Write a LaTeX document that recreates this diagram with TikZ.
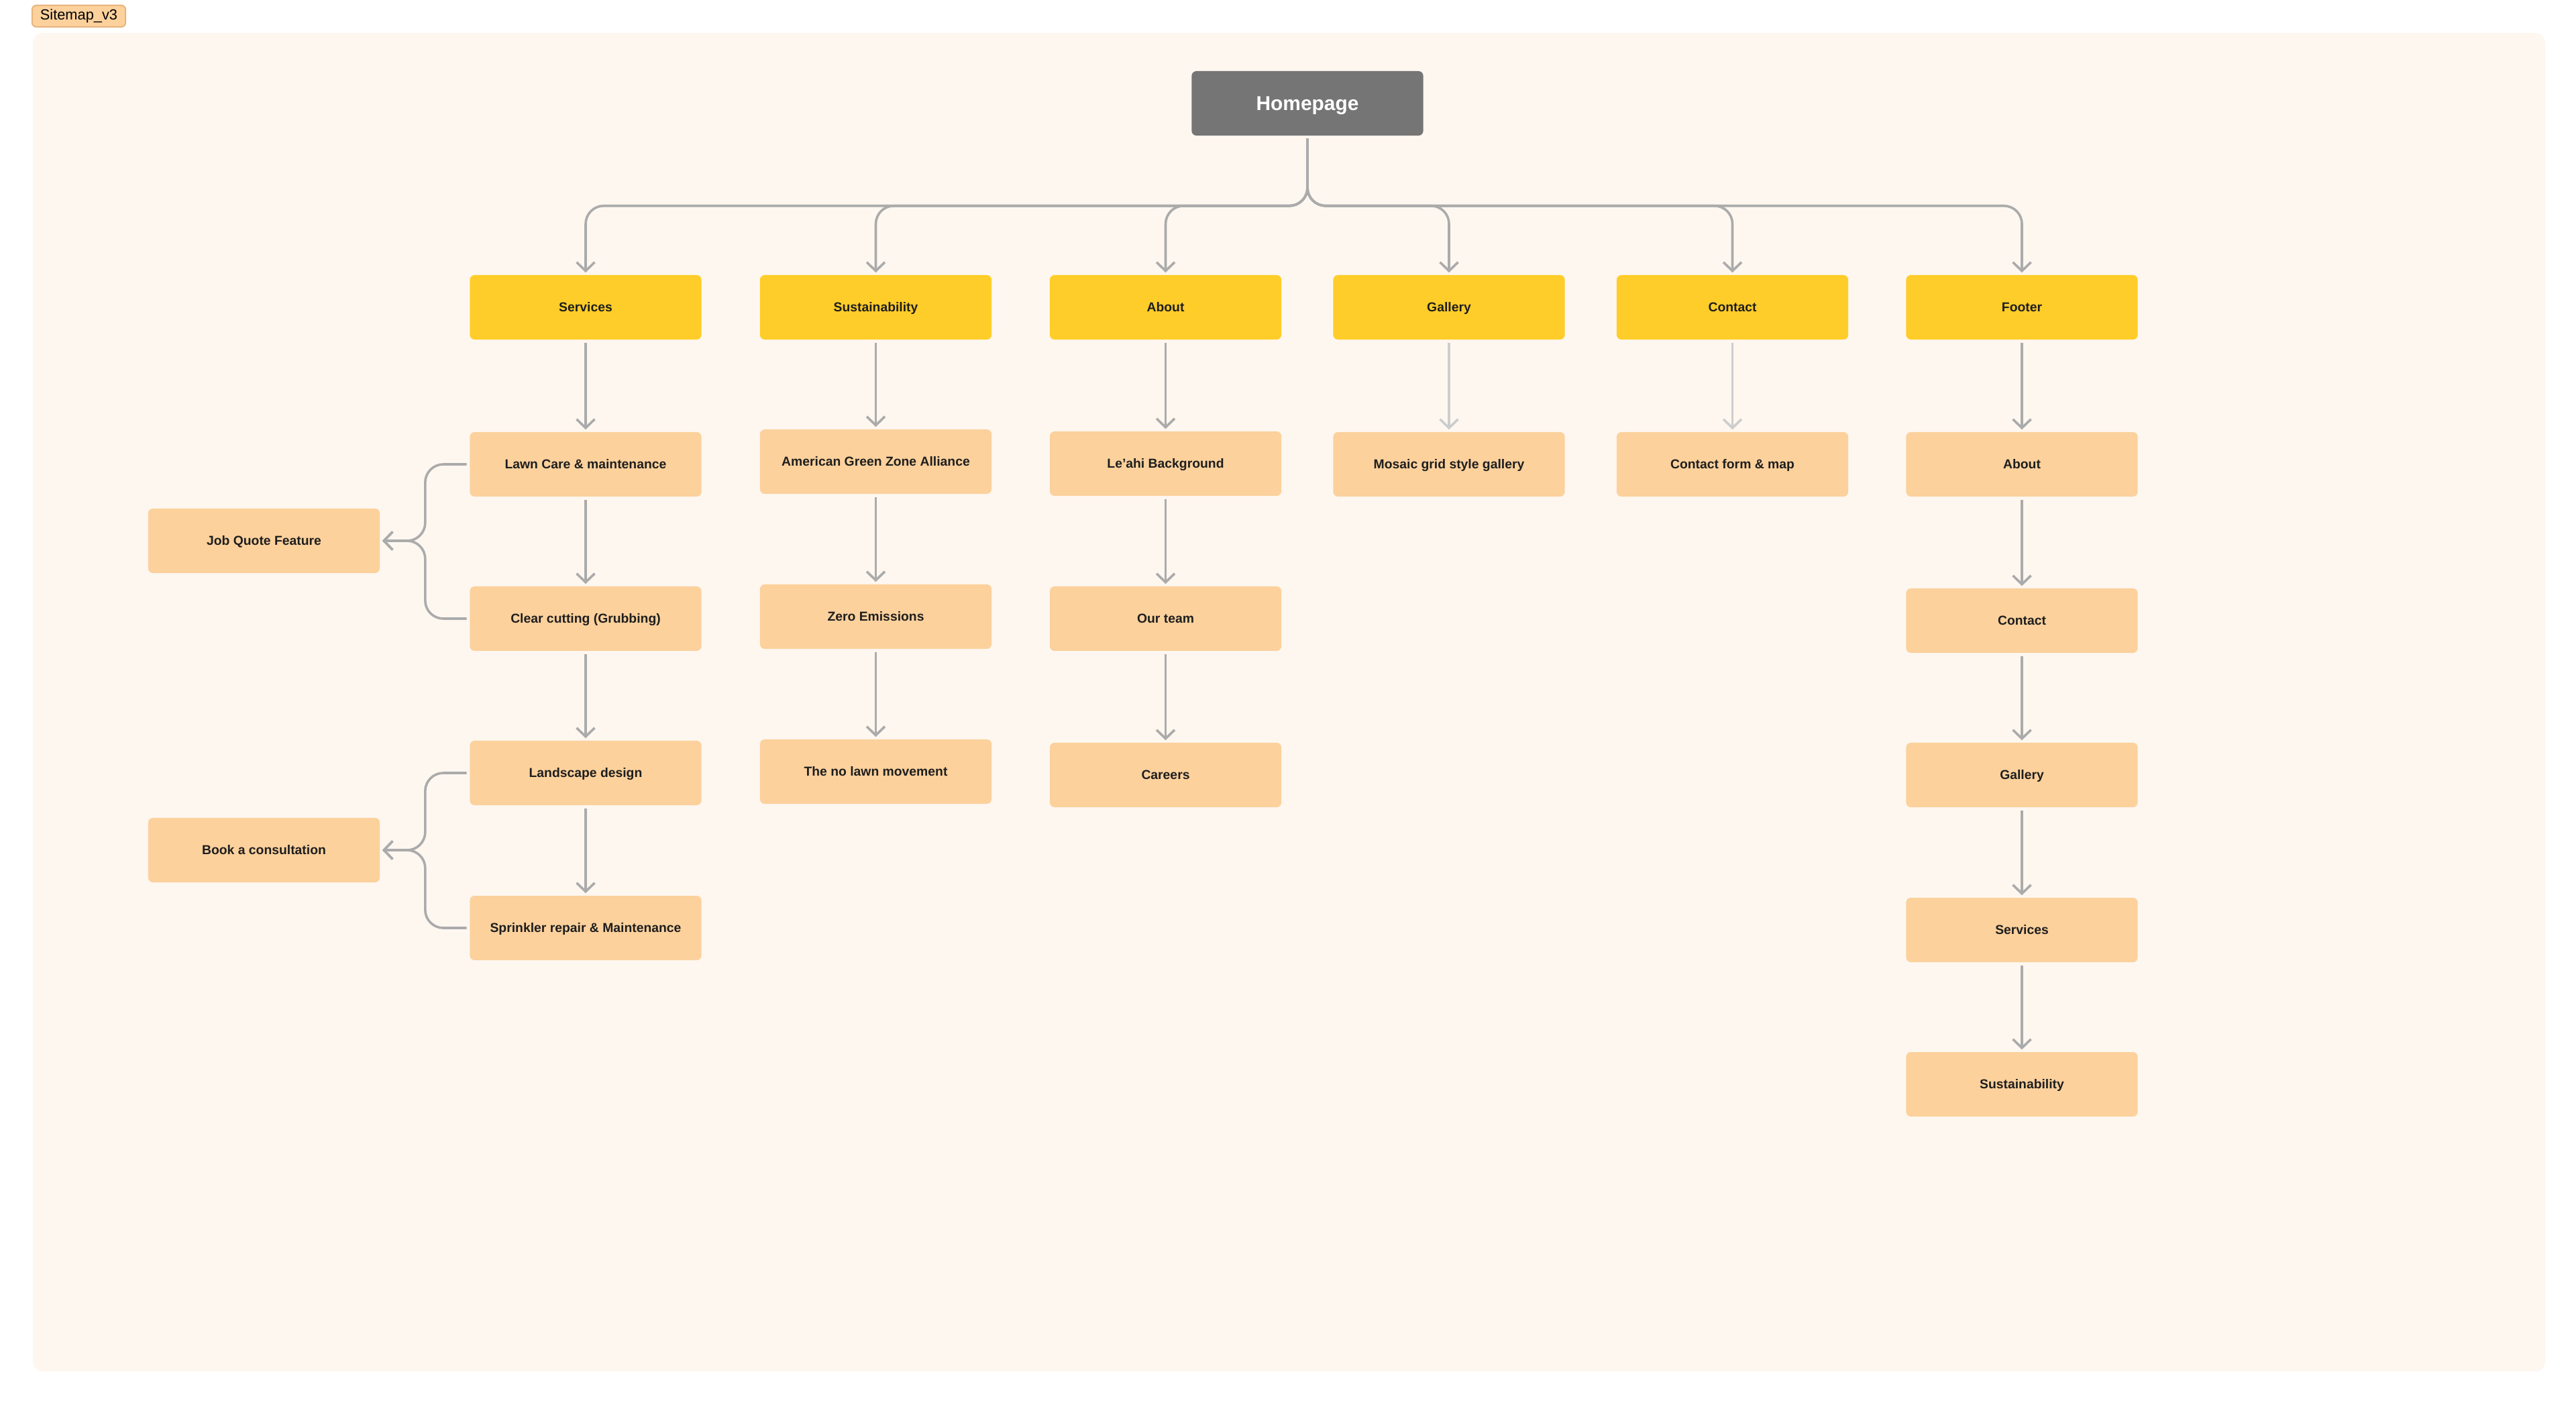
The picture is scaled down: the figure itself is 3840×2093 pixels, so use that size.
\documentclass[tikz,border=0pt]{standalone}
\usepackage{fontspec}
\setmainfont{Liberation Sans}
\usetikzlibrary{arrows.meta,positioning}

\definecolor{panel}{HTML}{FEF7F0}
\definecolor{tabfill}{HTML}{FCD19C}
\definecolor{tabline}{HTML}{E8B47C}
\definecolor{homegray}{HTML}{757575}
\definecolor{gold}{HTML}{FFCD29}
\definecolor{peach}{HTML}{FCD19C}
\definecolor{wire}{HTML}{ABABAB}
\definecolor{wirelight}{HTML}{CDCDCD}
\definecolor{ink}{HTML}{1E1E1E}

\begin{document}
\begin{tikzpicture}[x=0.01cm,y=-0.01cm,
  box/.style={rounded corners=0.07cm,minimum width=3.45cm,minimum height=0.96cm,inner sep=0pt,
    text height=3.94pt,text depth=0pt,font=\fontsize{5.5}{6}\selectfont\bfseries,text=ink},
  topbox/.style={box,fill=gold},
  subbox/.style={box,fill=peach},
  link/.style={draw=wire,line width=0.036cm,rounded corners=0.27cm,
    -{Straight Barb[length=0.13cm,width=0.27cm]},shorten >=0.03cm,shorten <=0.04cm},
  faint/.style={link,draw=wirelight}]
%canvas
\useasboundingbox (0,0) rectangle (3840,2093);
\fill[white] (0,0) rectangle (3840,2093);
\fill[panel,rounded corners=0.15cm] (49,49) rectangle (3794,2044);
\node[draw=tabline,fill=tabfill,rounded corners=0.06cm,line width=0.02cm,minimum width=1.39cm,
  minimum height=0.32cm,inner sep=0pt,font=\fontsize{6.2}{7}\selectfont] (tag) at (117.5,24) {Sitemap\_v3};

%root and first level
\node[box,fill=homegray,text=white,text height=6.1pt,font=\fontsize{8.5}{10}\selectfont\bfseries] (home) at (1949,154) {Homepage};
\node[topbox] (services) at (873,458) {Services};
\node[topbox] (sustain) at (1305.5,458) {Sustainability};
\node[topbox] (about) at (1737.5,458) {About};
\node[topbox] (gallery) at (2160,458) {Gallery};
\node[topbox] (contact) at (2582.5,458) {Contact};
\node[topbox] (footer) at (3014,458) {Footer};

%services column
\node[subbox] (lawn) at (873,692) {Lawn Care \& maintenance};
\node[subbox] (clear) at (873,922) {Clear cutting (Grubbing)};
\node[subbox] (landscape) at (873,1152) {Landscape design};
\node[subbox] (sprinkler) at (873,1383) {Sprinkler repair \& Maintenance};
\node[subbox] (jobq) at (393.5,806) {Job Quote Feature};
\node[subbox] (consult) at (393.5,1267) {Book a consultation};

%sustainability and about columns
\node[subbox] (agza) at (1305.5,688) {American Green Zone Alliance};
\node[subbox] (zero) at (1305.5,919) {Zero Emissions};
\node[subbox] (nolawn) at (1305.5,1150) {The no lawn movement};
\node[subbox] (leahi) at (1737.5,691) {Le'ahi Background};
\node[subbox] (team) at (1737.5,922) {Our team};
\node[subbox] (careers) at (1737.5,1155) {Careers};

%gallery, contact
\node[subbox] (mosaic) at (2160,692) {Mosaic grid style gallery};
\node[subbox] (form) at (2582.5,692) {Contact form \& map};

%footer column
\node[subbox] (fabout) at (3014,692) {About};
\node[subbox] (fcontact) at (3014,925) {Contact};
\node[subbox] (fgallery) at (3014,1155) {Gallery};
\node[subbox] (fservices) at (3014,1386) {Services};
\node[subbox] (fsustain) at (3014,1616) {Sustainability};

%connectors
\foreach \c in {services,sustain,about,gallery,contact,footer}
  \draw[link] (home.south) -- ++(0,104) -| (\c.north);
\foreach \a/\b in {services/lawn,lawn/clear,clear/landscape,landscape/sprinkler,
    sustain/agza,agza/zero,zero/nolawn,about/leahi,leahi/team,team/careers,
    footer/fabout,fabout/fcontact,fcontact/fgallery,fgallery/fservices,fservices/fsustain}
  \draw[link] (\a) -- (\b);
\draw[faint] (gallery) -- (mosaic);
\draw[faint] (contact) -- (form);

\foreach \a/\b in {lawn/jobq,clear/jobq,landscape/consult,sprinkler/consult}
  \draw[link] (\a.west) -| ([xshift=0.67cm]\b.east) -- (\b.east);
\end{tikzpicture}
\end{document}
